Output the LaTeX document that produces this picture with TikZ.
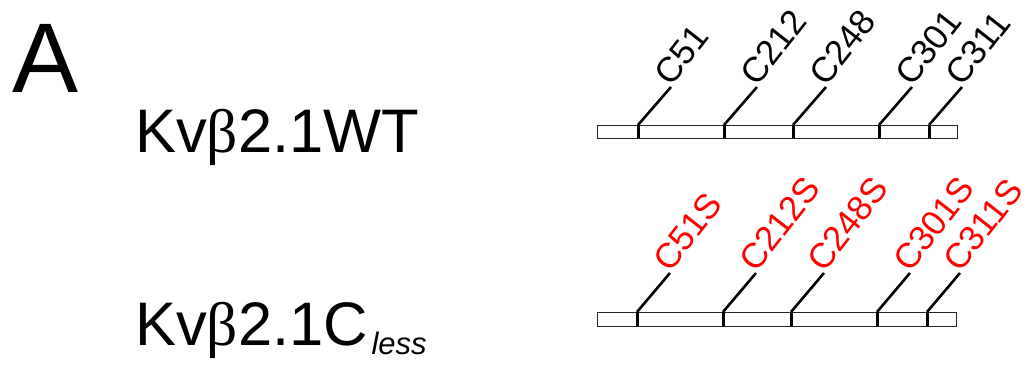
\documentclass[tikz,border=0pt]{standalone}
\usepackage{fontspec}
\usetikzlibrary{calc}
\setmainfont{Liberation Sans}
\newfontfamily\greekfont{Liberation Serif}
\newcommand{\kvb}{Kv{\greekfont β}2.1}
\begin{document}
\begin{tikzpicture}[x=1pt,y=-1pt,
  bar/.style={draw=black!85,line width=1.1pt,fill=white},
  site/.style={line width=2.6pt,line cap=butt},
  tick/.style={line width=3pt},
  wtlabel/.style={anchor=base west,rotate=52,inner sep=0pt,font=\fontsize{35}{35}\selectfont,text=black},
  mutlabel/.style={wtlabel,text=red},
  kvname/.style={anchor=base west,inner sep=0pt,font=\fontsize{61.5}{61.5}\selectfont}]
\useasboundingbox (0,0) rectangle (1029,366);

\node[anchor=base west,inner sep=0pt,font=\fontsize{99}{99}\selectfont] (panel) at (12,93) {A};

\node[kvname] (wt) at (135,153) {\kvb WT};
\node[kvname] (cl) at (135,345) {\kvb C};
\node[anchor=base west,inner sep=0pt,font=\fontsize{31}{31}\selectfont\itshape] (sub) at ($(cl.base east)+(3,9)$) {less};

% wild-type chain
\node[bar,minimum width=360pt,minimum height=13pt,inner sep=0pt,anchor=north west] (wtbar) at (597,125) {};
% cysteine-less chain
\node[bar,minimum width=359pt,minimum height=14pt,inner sep=0pt,anchor=north west] (clbar) at (597,312) {};

\foreach \x/\n/\lab in {638/1/C51,724/2/C212,793/3/C248,879/4/C301,929/5/C311}{
  \coordinate (wt\n) at (\x,125);
  \draw[tick] (\x,125) -- (\x,138);
  \coordinate (wte\n) at ($(wt\n)+(33,-38)$);
  \draw[site] (wt\n) -- (wte\n);
  \node[wtlabel] (wtl\n) at ($(wte\n)+(0,1)$) {\lab};
}
\foreach \x/\n/\lab in {637/1/C51S,723/2/C212S,791/3/C248S,877/4/C301S,927/5/C311S}{
  \coordinate (cl\n) at (\x,312);
  \draw[tick] (\x,312) -- (\x,326);
  \coordinate (cle\n) at ($(cl\n)+(33,-39)$);
  \draw[site] (cl\n) -- (cle\n);
  \node[mutlabel] (cll\n) at ($(cle\n)+(0,1)$) {\lab};
}
\end{tikzpicture}
\end{document}
